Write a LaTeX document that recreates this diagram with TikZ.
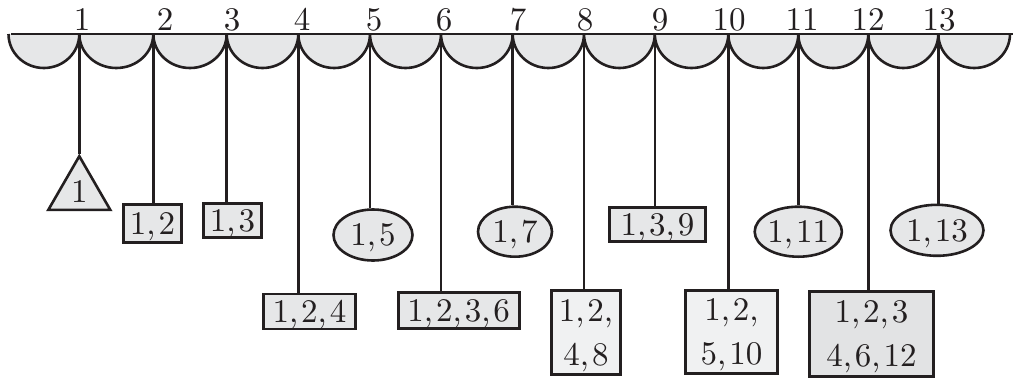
\documentclass[tikz,border=0pt]{standalone}
\usepackage{fontspec}
\setmainfont{lmroman10-regular.otf}
\usetikzlibrary{shapes.geometric}

\definecolor{ink}{HTML}{231F20}
\definecolor{shade}{HTML}{E6E7E8}
\definecolor{shadelt}{HTML}{F0F1F2}
\definecolor{shadedk}{HTML}{E2E3E4}

% comma with a little air after it, as in the figure's lists
\newcommand\cma{,\kern3pt}

\begin{document}
\begin{tikzpicture}[x=1pt,y=-1pt,
  lw/.style={line width=2.6pt, draw=ink},
  num/.style={font=\fontsize{33}{44}\selectfont, text=ink, inner sep=0pt},
  shapebase/.style={num, lw, fill=shade, inner sep=0pt, text depth=0pt, align=center},
  box/.style={shapebase, rectangle},
  oval/.style={shapebase, ellipse},
  tri/.style={shapebase, regular polygon, regular polygon sides=3, minimum size=71.6},
  arch/.style={lw, fill=shade}]
\useasboundingbox (0,0) rectangle (1013,381);

% hanging points along the rail
\coordinate (j0) at (8.5,34);
\foreach \i/\x in {1/79.3,2/153.3,3/226.7,4/298.3,5/370,6/441,7/512.7,
                   8/584,9/654.8,10/728.3,11/798.3,12/868.3,13/938.3}
  \coordinate (j\i) at (\x,34);
\coordinate (j14) at (1010,34);

% shaded half-round arches under the rail
\foreach \a/\b in {8.5/79.3,79.3/153.3,153.3/226.7,226.7/298.3,298.3/370,
                   370/441,441/512.7,512.7/584,584/654.8,654.8/728.3,
                   728.3/798.3,798.3/868.3,868.3/938.3,938.3/1010}
  \filldraw[arch] (\a,34) arc[start angle=180, end angle=0,
                              x radius={(\b-\a)/2}, y radius=34];

% the rail itself
\coordinate (railL) at (11,34);
\coordinate (railR) at (1013,34);
\draw[lw] (railL) -- (railR);

% numbers above the rail
\foreach \i/\x in {1/82,2/165,3/232,4/302,5/374,6/444,7/518,8/585,
                   9/660,10/729,11/802,12/868,13/939}
  \node[num, anchor=base] (n\i) at (\x,30) {\i};

% hanging shapes
\node[tri] (s1) at (79.3,192) {1};
\node[box, minimum width=58, minimum height=38] (s2) at (152.5,223.5) {1\cma2};
\node[box, minimum width=58, minimum height=34] (s3) at (232.5,220.5) {1\cma3};
\node[box, minimum width=92, minimum height=35] (s4) at (309.5,311.5) {1\cma2\cma4};
\node[oval, minimum width=79, minimum height=51] (s5) at (373,235) {1\cma5};
\node[box, minimum width=121, minimum height=36] (s6) at (458.7,310.5) {1\cma2\cma3\cma6};
\node[oval, minimum width=74, minimum height=50] (s7) at (515,231.7) {1\cma7};
\node[box, fill=shadelt, minimum width=69, minimum height=84] (s8) at (586,332.5) {1\cma2,\\4\cma8};
\node[box, minimum width=96, minimum height=34] (s9) at (657.5,224.5) {1\cma3\cma9};
\node[box, fill=shadelt, minimum width=92, minimum height=83] (s10) at (731.5,332) {1\cma2,\\5\cma10};
\node[oval, minimum width=84, minimum height=50] (s11) at (798.3,231.7) {1\cma11};
\node[box, fill=shadedk, minimum width=124, minimum height=85] (s12) at (871.5,334) {1\cma2\cma3\\4\cma6\cma12};
\node[oval, minimum width=93, minimum height=51] (s13) at (937,230.3) {1\cma13};

% strings from the rail down to each shape
\draw[lw] (j1) -- (s1.corner 1);
\foreach \i in {2,...,13}
  \draw[lw] (j\i) -- (j\i |- s\i.north);
\end{tikzpicture}
\end{document}
